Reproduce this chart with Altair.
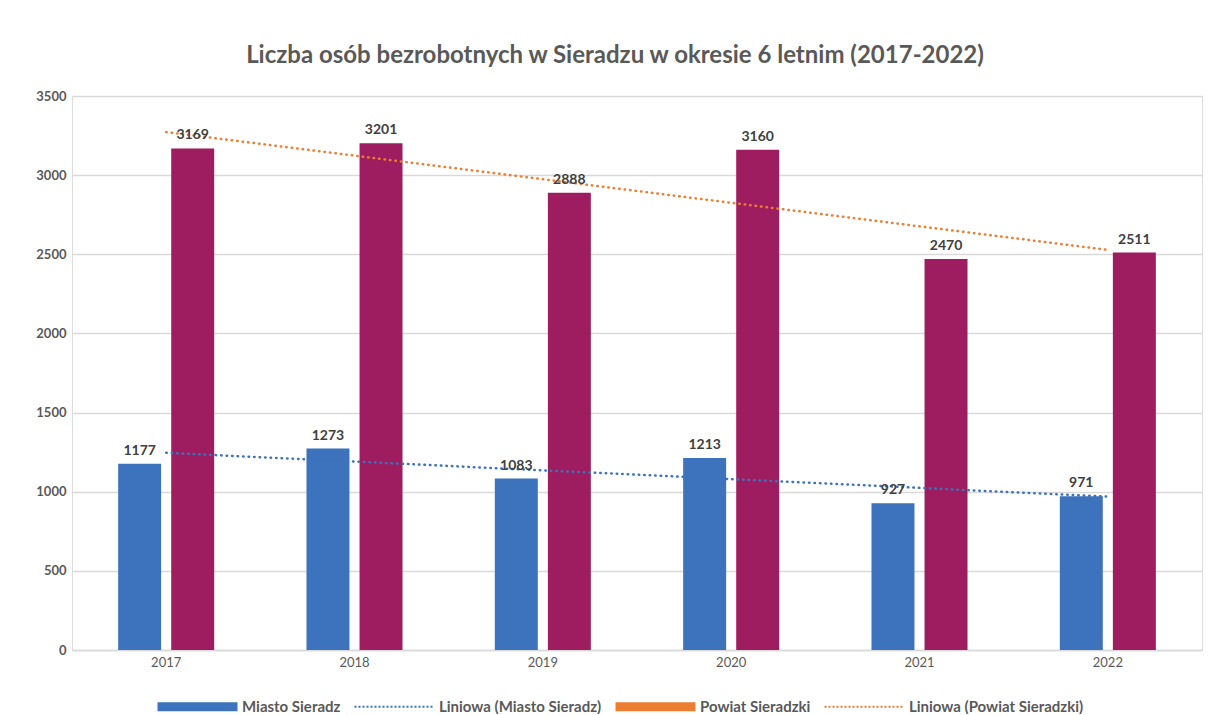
import altair as alt
import pandas as pd

years = [2017, 2018, 2019, 2020, 2021, 2022]
miasto = [1177, 1273, 1083, 1213, 927, 971]
powiat = [3169, 3201, 2888, 3160, 2470, 2511]
series_names = ["Miasto Sieradz", "Powiat Sieradzki"]
legend_labels = ["Miasto Sieradz", "Liniowa (Miasto Sieradz)",
                 "Powiat Sieradzki", "Liniowa (Powiat Sieradzki)"]
y_ticks = [0, 500, 1000, 1500, 2000, 2500, 3000, 3500]
title_text = "Liczba osób bezrobotnych w Sieradzu w okresie 6 letnim (2017-2022)"

BLUE = "#3D72BC"
MAROON = "#9E1D60"
ORANGE = "#ED7D31"
TXT = "#595959"
FONT = "Lato"

rows = []
for yr, m, p in zip(years, miasto, powiat):
    rows.append({"year": yr, "series": series_names[0], "value": m})
    rows.append({"year": yr, "series": series_names[1], "value": p})
df = pd.DataFrame(rows)

# legend symbol shapes (unit = sqrt(symbolSize)/2 px)
RECT = "M-1,-0.9L15,-0.9L15,0.9L-1,0.9Z"
DOTS = " ".join(
    f"M{-1 + i*0.8:.2f},-0.2L{-0.6 + i*0.8:.2f},-0.2L{-0.6 + i*0.8:.2f},0.2L{-1 + i*0.8:.2f},0.2Z"
    for i in range(20)
)

x = alt.X("year:O", scale=alt.Scale(paddingInner=0, paddingOuter=0),
          axis=alt.Axis(title=None, labelAngle=0, domain=True, domainColor="#D9D9D9",
                        domainWidth=1.3, ticks=False, labelPadding=6, labelFont=FONT,
                        labelFontSize=13, labelColor=TXT, grid=False))
y = alt.Y("value:Q", scale=alt.Scale(domain=[0, 3500], nice=False),
          axis=alt.Axis(title=None, values=y_ticks, format="d", grid=True, gridColor="#D9D9D9",
                        gridWidth=1.3, domain=False, ticks=False, labelPadding=6,
                        labelFont=FONT, labelFontSize=13, labelFontWeight="bold",
                        labelColor=TXT))
xo = alt.XOffset("series:N", scale=alt.Scale(domain=series_names,
                                             paddingInner=0.19, paddingOuter=0.87))

base = alt.Chart(df)

bars = base.mark_bar().encode(
    x=x, y=y, xOffset=xo,
    fill=alt.Fill("series:N", scale=alt.Scale(domain=series_names, range=[BLUE, MAROON]),
                  legend=None),
)

labels = base.mark_text(dy=-9, baseline="alphabetic", fontWeight="bold", fontSize=14,
                        font=FONT, color="#404040").encode(
    x=x, y=y, xOffset=xo, text=alt.Text("value:Q", format="d"))

trend = base.transform_regression("year", "value", groupby=["series"]).transform_calculate(
    label="'Liniowa (' + datum.series + ')'"
).mark_line(strokeWidth=2.5, strokeDash=[0.5, 5], strokeCap="round").encode(
    x=x, y=y,
    stroke=alt.Stroke("label:N", scale=alt.Scale(domain=[legend_labels[1], legend_labels[3]],
                                                 range=[BLUE, ORANGE]), legend=None),
)

leg = alt.Legend(orient="none", legendX=83, legendY=603, direction="horizontal", columns=4,
                 title=None, symbolSize=100, symbolStrokeWidth=0, labelOffset=72,
                 labelFont=FONT, labelFontSize=15, labelFontWeight="bold", labelColor=TXT,
                 labelLimit=400, columnPadding=11, symbolOpacity=1)

leg_df = pd.DataFrame({"label": legend_labels})
legend_layer = alt.Chart(leg_df).transform_filter("false").mark_point(filled=True, opacity=1).encode(
    color=alt.Color("label:N", scale=alt.Scale(domain=legend_labels,
                                               range=[BLUE, BLUE, ORANGE, ORANGE]), legend=leg),
    shape=alt.Shape("label:N", scale=alt.Scale(domain=legend_labels,
                                               range=[RECT, DOTS, RECT, DOTS]), legend=leg),
)

chart = alt.layer(bars, trend, labels, legend_layer).properties(
    width=1130, height=554,
    title=alt.TitleParams(title_text, font=FONT, fontSize=24, fontWeight="bold", color=TXT,
                          anchor="middle", dx=-22, offset=22),
    autosize=alt.AutoSizeParams(type="none"),
    padding={"left": 64, "top": 88, "right": 12, "bottom": 64},
).configure_view(stroke=None).configure(background="white")

chart.save("out.html", embed_options={"renderer": "svg", "actions": False})
